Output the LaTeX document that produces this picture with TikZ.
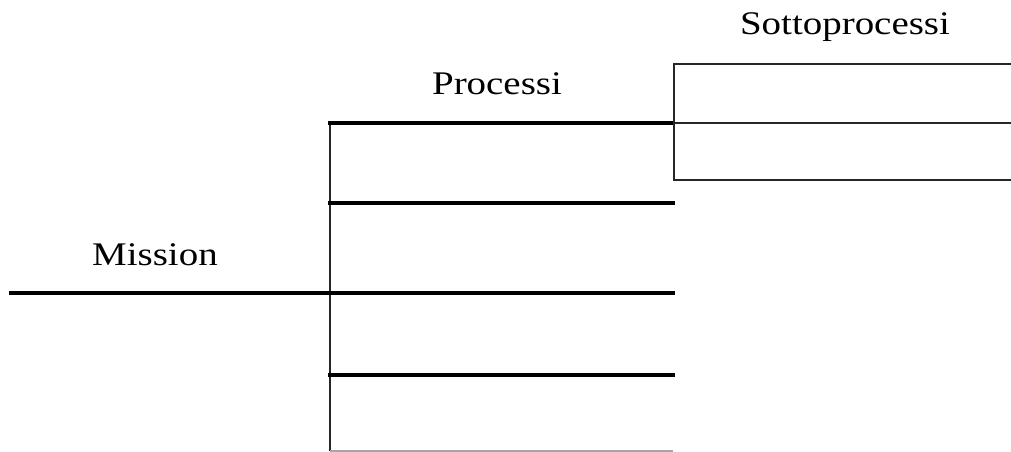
\documentclass[tikz,border=0pt]{standalone}
\usepackage{fontspec}
\usepackage{graphicx}
\setmainfont{Liberation Serif}
\tikzset{
  thickbar/.style={line width=4.6pt, line cap=rect},
  thinbar/.style={line width=1.8pt, draw=black!85},
  label/.style={anchor=base, inner sep=0pt, font=\fontsize{33}{40}\selectfont},
}
\newcommand{\wide}[1]{\scalebox{1.18}[1]{#1}}
\begin{document}
\begin{tikzpicture}[x=1pt, y=-1pt]
  \useasboundingbox (0,0) rectangle (1011,452);
  % key points
  \coordinate (m0) at (11,293);
  \coordinate (m1) at (330,293);
  \coordinate (vtop) at (330,122);
  \coordinate (vbot) at (330,451);
  \coordinate (p1a) at (330,123);  \coordinate (p1b) at (673,123);
  \coordinate (p2a) at (330,203);  \coordinate (p2b) at (673,203);
  \coordinate (p3a) at (330,293);  \coordinate (p3b) at (673,293);
  \coordinate (p4a) at (330,375);  \coordinate (p4b) at (673,375);
  \coordinate (pba) at (330,451);  \coordinate (pbb) at (673,451);
  \coordinate (sTL) at (674,64);   \coordinate (sTR) at (1013,64);
  \coordinate (sML) at (674,123);  \coordinate (sMR) at (1013,123);
  \coordinate (sBL) at (674,180);  \coordinate (sBR) at (1013,180);

  % labels
  \node[label] (mission) at (155,265) {\wide{Mission}};
  \node[label] (processi) at (497,94) {\wide{Processi}};
  \node[label] (sotto) at (845,35) {\wide{Sottoprocessi}};

  % mission branch
  \draw[thickbar] (m0) -- (m1);
  \draw[thinbar] (vtop) -- (vbot);

  % process branches
  \draw[thickbar] (p1a) -- (p1b);
  \draw[thickbar] (p2a) -- (p2b);
  \draw[thickbar] (p3a) -- (p3b);
  \draw[thickbar] (p4a) -- (p4b);
  \draw[thinbar, draw=black!35] (pba) -- (pbb);

  % sub-process frame
  \draw[thinbar] (sTR) -- (sTL) -- (sBL) -- (sBR);
  \draw[thinbar] (sML) -- (sMR);
\end{tikzpicture}
\end{document}
